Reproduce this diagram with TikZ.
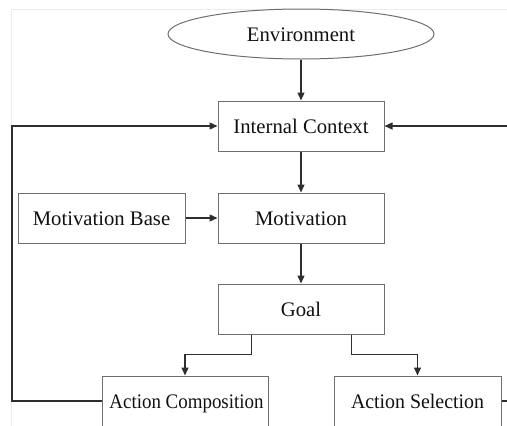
\documentclass[tikz,border=0pt]{standalone}
\usepackage{fontspec}
\setmainfont{Liberation Serif}
\usetikzlibrary{arrows.meta,shapes.geometric}
\definecolor{boxgray}{HTML}{6E6E6E}
\definecolor{linegray}{HTML}{2E2E2E}
\definecolor{framegray}{HTML}{EAEDED}
\definecolor{txt}{HTML}{111111}
\begin{document}
\begin{tikzpicture}[x=1pt,y=-1pt,
  lbl/.style={text=txt,font=\fontsize{20.7}{24}\selectfont,text height=14pt,text depth=0pt},
  box/.style={lbl,draw=boxgray,line width=1pt,minimum width=166pt,minimum height=50pt,inner sep=0pt},
  conn/.style={draw=linegray,line width=1.3pt},
  arr/.style={conn,-{Triangle[length=8pt,width=7pt]}}]
\useasboundingbox (0,0) rectangle (507,426);
\clip (0,0) rectangle (507,425.4);
\draw[framegray,line width=0.8pt] (11,9) -- (507,9);
\draw[framegray,line width=0.8pt] (11,9) -- (11,426);
\node[lbl,ellipse,draw=boxgray,line width=1pt,minimum width=266pt,minimum height=50pt,inner sep=0pt] (env) at (301,34) {Environment};
\node[box] (ic) at (301,126) {Internal Context};
\node[box,minimum width=167pt] (mb) at (101.5,218) {Motivation Base};
\node[box] (mot) at (301,218) {Motivation};
\node[box] (goal) at (301,309) {Goal};
\node[box] (ac) at (185,401) {\hspace*{3pt}\scalebox{0.915}[1]{Action Composition}};
\node[box,minimum width=167pt] (as) at (417.5,401) {\scalebox{0.96}[1]{Action Selection}};
\coordinate (fbl) at (12,126);
\coordinate (fbr) at (508,126);
\coordinate (asr) at (508,401);
\draw[arr] (env) -- (ic);
\draw[arr] (ic) -- (mot);
\draw[arr] (mb) -- (mot);
\draw[arr] (mot) -- (goal);
\draw[arr] ([xshift=34pt]goal.south west) -- ++(0,20) -| (ac.north);
\draw[arr] ([xshift=-33pt]goal.south east) -- ++(0,20) -| (as.north);
\draw[arr] (ac.west) -| (fbl) -- (ic.west);
\draw[arr] (fbr) -- (ic.east);
\draw[conn] (as.east) -- (asr);
\end{tikzpicture}
\end{document}
